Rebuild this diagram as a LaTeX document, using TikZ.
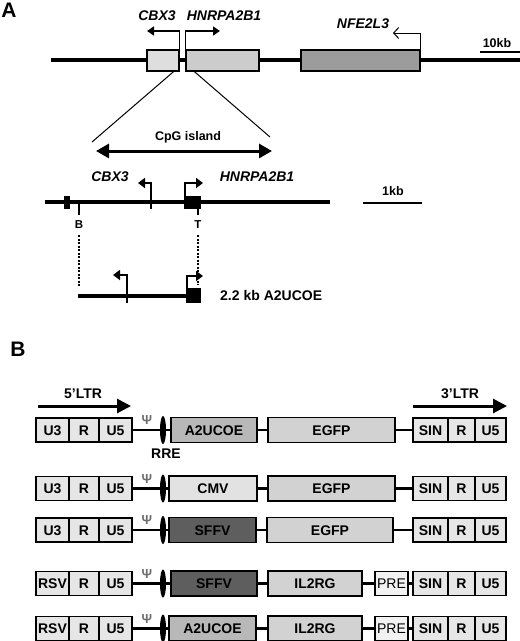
\documentclass[tikz,border=0pt]{standalone}
\usepackage{fontspec}
\setmainfont{Liberation Sans}
\usetikzlibrary{arrows.meta,shapes.geometric}
\definecolor{ltrc}{HTML}{E6E6E6}
\definecolor{ucoec}{HTML}{B8B8B8}
\definecolor{egfpc}{HTML}{D2D2D2}
\definecolor{cmvc}{HTML}{E2E2E2}
\definecolor{sffvc}{HTML}{5E5E5E}
\definecolor{prec}{HTML}{F2F2F2}
\definecolor{gonec}{HTML}{DEDEDE}
\definecolor{gtwoc}{HTML}{CCCCCC}
\definecolor{gthreec}{HTML}{9C9C9C}
\definecolor{psic}{HTML}{6E6E6E}
\newcommand\leftltr[3]{%
  \node[box,fill=ltrc,minimum width=33pt] (#1a) at (52.5,#2) {#3};
  \node[box,fill=ltrc,minimum width=30pt] (#1b) at (84,#2) {R};
  \node[box,fill=ltrc,minimum width=33pt] (#1c) at (115.5,#2) {U5};
}
\newcommand\rightltr[2]{%
  \node[box,fill=ltrc,minimum width=35pt] (#1s) at (430.5,#2) {SIN};
  \node[box,fill=ltrc,minimum width=27pt] (#1r) at (461.5,#2) {R};
  \node[box,fill=ltrc,minimum width=31pt] (#1u) at (490.5,#2) {U5};
}
\newcommand\psirre[2]{%
  \node[psisym] (#1psi) at (147,{#2-10}) {Ψ};
  \node[rre] (#1e) at (163,#2) {};
}
\begin{document}
\begin{tikzpicture}[x=1pt,y=-1pt,
  lbl/.style={font=\fontsize{14}{16}\selectfont\bfseries, inner sep=0pt, text height=10pt, text depth=0pt},
  ilbl/.style={lbl, font=\fontsize{14}{16}\selectfont\bfseries\itshape},
  slbl/.style={lbl, font=\fontsize{12.5}{14}\selectfont\bfseries, text height=9pt},
  box/.style={draw, line width=1.2pt, minimum height=24pt, inner sep=0pt, lbl},
  gene/.style={box, minimum height=25pt},
  gbox/.style={draw, line width=1.2pt, minimum height=21pt, inner sep=0pt},
  conn/.style={line width=2.5pt},
  rre/.style={ellipse, fill=black, minimum width=6pt, minimum height=28pt, inner sep=0pt},
  psisym/.style={font=\fontsize{13}{14}\selectfont\bfseries, text=psic, inner sep=0pt, text height=9pt, text depth=0pt},
  ltrarr/.style={line width=3pt, -{Triangle[length=14pt,width=14pt]}},
  parr/.style={line width=1.5pt, -{Triangle[length=7pt,width=9pt]}},
  parrb/.style={line width=2pt, -{Triangle[length=7pt,width=10pt]}},
  oarr/.style={line width=1pt, -{Straight Barb[length=5pt,width=11pt]}},
  tickln/.style={line width=2.5pt},
  dotln/.style={line width=2.5pt, dash pattern=on 2pt off 1.5pt},
  panel/.style={font=\fontsize{21}{24}\selectfont\bfseries, inner sep=0pt}
]
\useasboundingbox (0,0) rectangle (520,641);

% ---------------- Panel A ----------------
\node[panel] (pa) at (9,10) {A};

\coordinate (la) at (51,60);
\coordinate (lb) at (520,60);
\draw[line width=3.5pt] (la) -- (lb);
\node[gbox, fill=gonec, minimum width=32pt] (cbx) at (163,60.5) {};
\node[gbox, fill=gtwoc, minimum width=73pt] (hnr) at (222.5,60.5) {};
\node[gbox, fill=gthreec, minimum width=119pt] (nfe) at (360.5,60.5) {};

\coordinate (cbxt) at (147,31);
\coordinate (hnrt) at (220,31);
\coordinate (nfet) at (393,33);
\draw[parr] (cbx.north east) |- (cbxt);
\draw[parr] (hnr.north west) |- (hnrt);
\draw[oarr] (nfe.north east) |- (nfet);

\node[ilbl] (lcbx) at (157,15) {CBX3};
\node[ilbl] (lhnr) at (224,15) {HNRPA2B1};
\node[ilbl] (lnfe) at (363,23) {NFE2L3};

\coordinate (sbl) at (480,52);
\coordinate (sbr) at (520,52);
\draw[line width=2.5pt] (sbl) -- (sbr);
\node[slbl] (l10) at (497,43) {10kb};

% zoom lines
\coordinate (z1) at (92,142);
\coordinate (z2) at (270,137);
\draw[line width=1pt] ([xshift=-6pt]cbx.south east) -- (z1);
\draw[line width=1pt] ([xshift=9pt]hnr.south west) -- (z2);

% CpG island
\node[slbl] (lcpg) at (188,136) {CpG island};
\coordinate (cpgl) at (96,151);
\coordinate (cpgr) at (272,151);
\draw[line width=3pt, {Triangle[length=13pt,width=14pt]}-{Triangle[length=13pt,width=14pt]}] (cpgl) -- (cpgr);

\node[ilbl] (lcbx2) at (110,176) {CBX3};
\node[ilbl] (lhnr2) at (257,176) {HNRPA2B1};

% middle line
\coordinate (ma) at (45,202);
\coordinate (mb) at (330,202);
\draw[line width=4pt] (ma) -- (mb);
\node[fill=black, minimum width=6pt, minimum height=13pt, inner sep=0pt] (blk1) at (67,202.5) {};
\node[fill=black, minimum width=17pt, minimum height=13pt, inner sep=0pt] (blk2) at (192.5,202.5) {};
\coordinate (bt) at (79,202);
\coordinate (bb) at (79,215);
\draw[tickln] (bt) -- (bb);
\node[lbl, font=\fontsize{11.5}{12}\selectfont\bfseries, text height=8.3pt] (lb1) at (79,224) {B};
\coordinate (tt) at (198,209);
\coordinate (tb) at (198,215);
\draw[tickln] (tt) -- (tb);
\node[lbl, font=\fontsize{11.5}{12}\selectfont\bfseries, text height=8.3pt] (lt1) at (198,224) {T};
\coordinate (ct1) at (151,196);
\coordinate (cb1) at (151,209);
\draw[tickln] (ct1) -- (cb1);
\coordinate (ca1) at (138,183);
\draw[parrb] (ct1) |- (ca1);
\coordinate (ha1) at (203,183);
\draw[parrb] ([xshift=1pt]blk2.north west) |- (ha1);

\coordinate (s1) at (363,203);
\coordinate (s2) at (422,203);
\draw[line width=2.5pt] (s1) -- (s2);
\node[slbl] (l1kb) at (393,191) {1kb};

% dotted lines
\coordinate (d1a) at (79,235);
\coordinate (d1b) at (79,287);
\coordinate (d2a) at (198,235);
\coordinate (d2b) at (198,285);
\draw[dotln] (d1a) -- (d1b);
\draw[dotln] (d2a) -- (d2b);

% A2UCOE fragment
\coordinate (ua) at (78,296);
\coordinate (ub) at (200,296);
\draw[line width=3.5pt] (ua) -- (ub);
\node[fill=black, minimum width=15pt, minimum height=15pt, inner sep=0pt] (blk3) at (193.5,295.5) {};
\coordinate (ct2) at (127,288);
\coordinate (cb2) at (127,303);
\draw[tickln] (ct2) -- (cb2);
\coordinate (ca2) at (113,275);
\draw[parrb] (ct2) |- (ca2);
\coordinate (ha2) at (203,276);
\draw[parrb] ([xshift=1pt]blk3.north west) |- (ha2);
\node[lbl, font=\fontsize{14}{16}\selectfont\bfseries, text height=10pt, anchor=west] (lucoe) at (220,295) {2.2 kb A2UCOE};

% ---------------- Panel B ----------------
\node[panel] (pb) at (18,349) {B};

\coordinate (l5a) at (38,406);
\coordinate (l5b) at (131,406);
\draw[ltrarr] (l5a) -- (l5b);
\node[lbl] (l5) at (83,393) {5'LTR};
\coordinate (l3a) at (413,406);
\coordinate (l3b) at (507,406);
\draw[ltrarr] (l3a) -- (l3b);
\node[lbl] (l3) at (460,393) {3'LTR};

% row 1
\leftltr{a}{430}{U3}
\node[gene,fill=ucoec,minimum width=86pt] (ap) at (214,430) {A2UCOE};
\node[gene,fill=egfpc,minimum width=127pt] (ag) at (331.5,430) {EGFP};
\rightltr{a}{430}
\draw[conn] (ac) -- (ap);
\draw[conn] (ap) -- (ag);
\draw[conn] (ag) -- (as);
\psirre{a}{430}
\node[lbl] (rrelbl) at (166,453) {RRE};

% row 2
\leftltr{b}{488.5}{U3}
\node[gene,fill=cmvc,minimum width=88pt] (bp) at (213,488.5) {CMV};
\node[gene,fill=egfpc,minimum width=127pt] (bg) at (331.5,488.5) {EGFP};
\rightltr{b}{488.5}
\draw[conn] (bc) -- (bp);
\draw[conn] (bp) -- (bg);
\draw[conn] (bg) -- (bs);
\psirre{b}{488.5}

% row 3
\leftltr{c}{530}{U3}
\node[gene,fill=sffvc,minimum width=87pt] (cp) at (212.5,530) {SFFV};
\node[gene,fill=egfpc,minimum width=126pt] (cg) at (330,530) {EGFP};
\rightltr{c}{530}
\draw[conn] (cc) -- (cp);
\draw[conn] (cp) -- (cg);
\draw[conn] (cg) -- (cs);
\psirre{c}{530}

% row 4
\leftltr{d}{583.5}{RSV}
\node[gene,fill=sffvc,minimum width=86pt] (dp) at (214,583.5) {SFFV};
\node[gene,fill=egfpc,minimum width=94pt] (dg) at (315,583.5) {IL2RG};
\node[box,fill=prec,minimum width=33pt,font=\fontsize{14}{16}\selectfont] (dw) at (391.5,583.5) {PRE};
\rightltr{d}{583.5}
\draw[conn] (dc) -- (dp);
\draw[conn] (dp) -- (dg);
\draw[conn] (dg) -- (dw);
\draw[conn] (dw) -- (ds);
\psirre{d}{583.5}

% row 5
\leftltr{e}{628.5}{RSV}
\node[gene,fill=ucoec,minimum width=87pt] (ep) at (212.5,628.5) {A2UCOE};
\node[gene,fill=egfpc,minimum width=94pt] (eg) at (315,628.5) {IL2RG};
\node[box,fill=prec,minimum width=33pt,font=\fontsize{14}{16}\selectfont] (ew) at (391.5,628.5) {PRE};
\rightltr{e}{628.5}
\draw[conn] (ec) -- (ep);
\draw[conn] (ep) -- (eg);
\draw[conn] (eg) -- (ew);
\draw[conn] (ew) -- (es);
\psirre{e}{628.5}
\end{tikzpicture}
\end{document}
